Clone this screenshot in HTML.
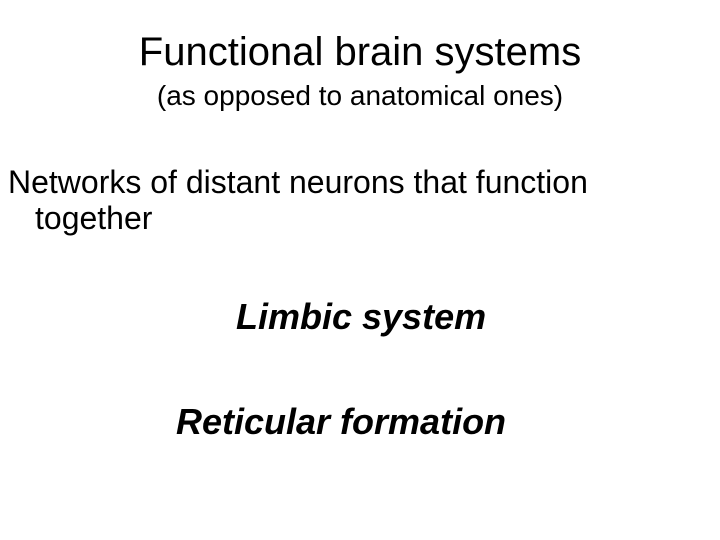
<!DOCTYPE html>
<html><head><style>
html,body{margin:0;padding:0;background:#fff;width:720px;height:540px;overflow:hidden;font-family:"Liberation Sans",sans-serif;color:#000}
div{position:absolute;white-space:nowrap}
</style></head><body>
<div style="left:0;width:720px;text-align:center;top:29px;font-size:40px;line-height:46px">Functional brain systems</div>
<div style="left:0;width:720px;text-align:center;top:80px;font-size:28px;line-height:32px">(as opposed to anatomical ones)</div>
<div style="left:8px;top:164px;font-size:32px;line-height:36px">Networks of distant neurons that function</div>
<div style="left:35px;top:200px;font-size:32px;line-height:36px">together</div>
<div style="left:236px;top:297px;font-size:36px;line-height:40px;font-weight:bold;font-style:italic">Limbic system</div>
<div style="left:176px;top:402px;font-size:36px;line-height:40px;font-weight:bold;font-style:italic">Reticular formation</div>
</body></html>
